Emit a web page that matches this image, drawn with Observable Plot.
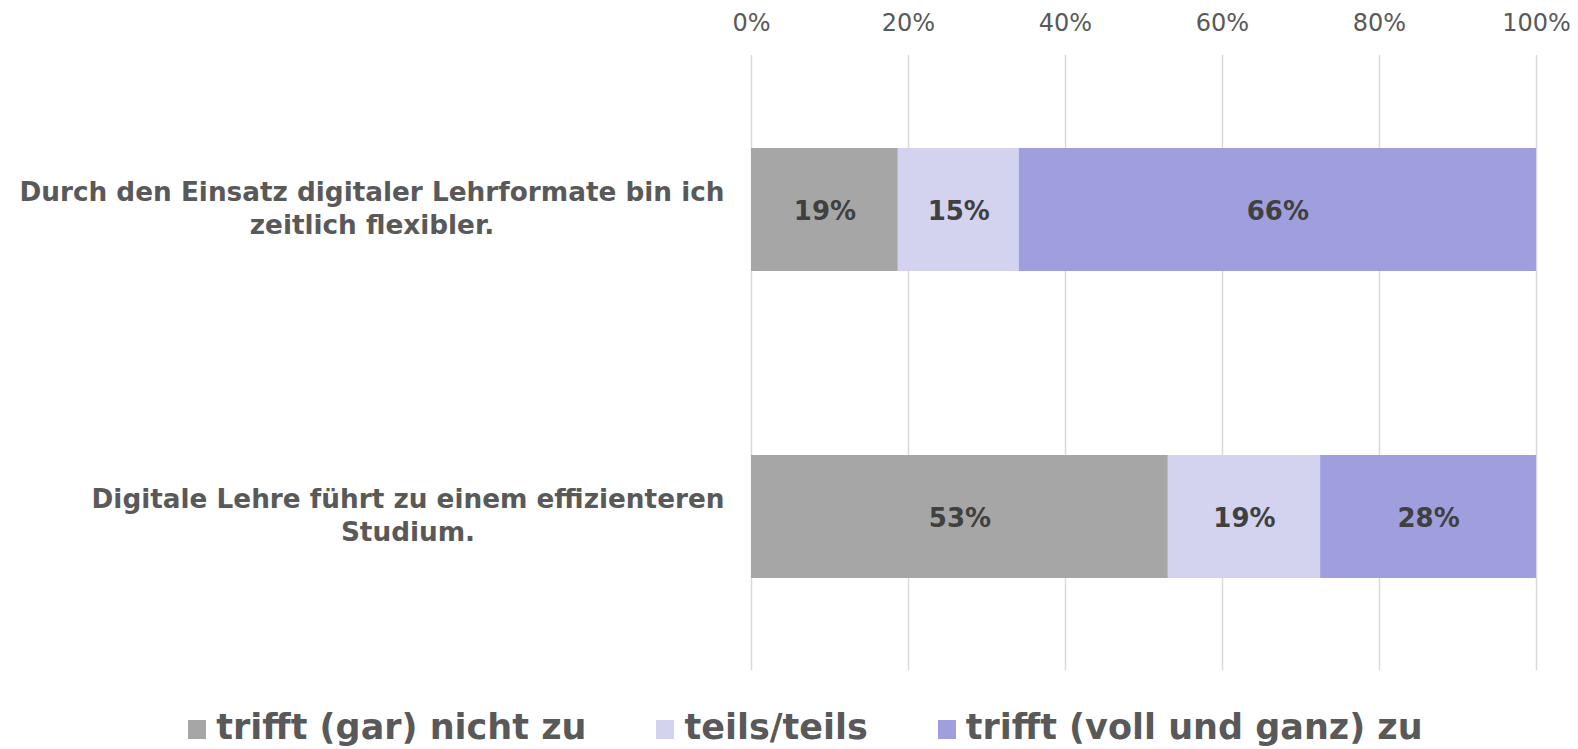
<!DOCTYPE html>
<html>
<head>
<meta charset="utf-8">
<script src="https://cdn.jsdelivr.net/npm/d3@7"></script>
<script src="https://cdn.jsdelivr.net/npm/@observablehq/plot@0.6"></script>
<style>
  html, body { margin: 0; padding: 0; background: #fff; }
  #chart svg { display: block; }
  #legend { display: flex; justify-content: center; align-items: center; height: 59px; padding-left: 33px; padding-top: 14px; box-sizing: border-box; width: 1578px;
    font-family: "DejaVu Sans", Verdana, sans-serif; font-weight: bold; font-size: 35px; color: #595959; }
  #legend .item { display: flex; align-items: center; margin: 0 35px; }
  #legend .sw { width: 18px; height: 19px; margin-right: 10px; margin-top: 6px; }
</style>
</head>
<body>
<div id="chart"></div>
<div id="legend"></div>
<script>
const categories = [
  "Durch den Einsatz digitaler Lehrformate bin ich\nzeitlich flexibler.",
  "Digitale Lehre führt zu einem effizienteren\nStudium."
];
const seriesNames = ["trifft (gar) nicht zu", "teils/teils", "trifft (voll und ganz) zu"];
const seriesColors = ["#a6a6a6", "#d3d3f0", "#9f9fde"];
const valuesNicht = [18.7, 53.1];
const valuesTeils = [15.4, 19.4];
const valuesVoll = [65.9, 27.5];
const labelsNicht = ["19%", "53%"];
const labelsTeils = ["15%", "19%"];
const labelsVoll = ["66%", "28%"];
const xTicks = [0, 20, 40, 60, 80, 100];

const data = [];
categories.forEach((c, i) => {
  data.push({cat: c, series: seriesNames[0], value: valuesNicht[i], label: labelsNicht[i]});
  data.push({cat: c, series: seriesNames[1], value: valuesTeils[i], label: labelsTeils[i]});
  data.push({cat: c, series: seriesNames[2], value: valuesVoll[i], label: labelsVoll[i]});
});

const W = 1578, H = 690, ML = 751, MR = 42, MT = 55, MB = 20;
const labelSize = 26.3;
const ctx = document.createElement("canvas").getContext("2d");
ctx.font = `bold ${labelSize}px 'DejaVu Sans'`;
const labelRight = 724;

const catMarks = categories.map(c => {
  const lines = c.split("\n");
  const w = Math.max(...lines.map(l => ctx.measureText(l).width));
  const center = labelRight - w / 2;
  return Plot.text([c], {
    y: d => d, text: d => d, frameAnchor: "left", textAnchor: "middle",
    dx: center - ML, dy: -3, lineAnchor: "middle", lineHeight: 1.23,
    fontSize: labelSize, fontWeight: "bold", fill: "#595959"
  });
});

const plot = Plot.plot({
  width: W, height: H,
  marginLeft: ML, marginRight: MR, marginTop: MT, marginBottom: MB,
  style: {fontFamily: "'DejaVu Sans', Verdana, sans-serif", background: "#fff"},
  x: {domain: [0, 100], ticks: xTicks, axis: null},
  y: {domain: categories, paddingInner: 0.6, paddingOuter: 0.3, axis: null},
  color: {domain: seriesNames, range: seriesColors},
  marks: [
    Plot.gridX(xTicks, {stroke: "#d9d9d9", strokeOpacity: 1, strokeWidth: 1.5}),
    Plot.axisX({anchor: "top", ticks: xTicks, tickSize: 0, tickPadding: 25, tickFormat: d => d + "%", fontSize: 24, fill: "#595959", color: "#595959", label: null}),
    Plot.barX(data, Plot.stackX({x: "value", y: "cat", fill: "series", z: "series", order: seriesNames})),
    Plot.text(data, Plot.stackX({x: "value", y: "cat", z: "series", text: "label", order: seriesNames, dy: 2, fontSize: 26, fontWeight: "bold", fill: "#404040"})),
    ...catMarks
  ]
});
document.getElementById("chart").appendChild(plot);

const legend = document.getElementById("legend");
seriesNames.forEach((s, i) => {
  const item = document.createElement("div");
  item.className = "item";
  const sw = document.createElement("div");
  sw.className = "sw";
  sw.style.background = seriesColors[i];
  const t = document.createElement("span");
  t.textContent = s;
  item.appendChild(sw); item.appendChild(t);
  legend.appendChild(item);
});
</script>
</body>
</html>
